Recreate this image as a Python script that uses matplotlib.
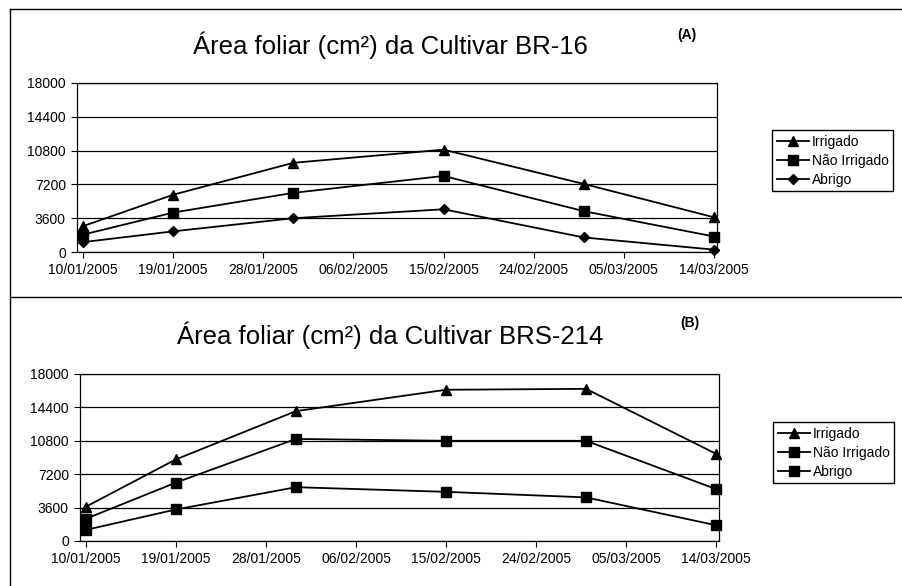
import matplotlib.pyplot as plt
import matplotlib.dates as mdates
from matplotlib.lines import Line2D
import pandas as pd

plt.rcParams['font.family'] = ['Liberation Sans', 'DejaVu Sans']

# dias de amostragem
datas = pd.to_datetime(['2005-01-10', '2005-01-19', '2005-01-31',
                        '2005-02-15', '2005-03-01', '2005-03-14'])
tick_datas = pd.to_datetime(['2005-01-10', '2005-01-19', '2005-01-28', '2005-02-06',
                             '2005-02-15', '2005-02-24', '2005-03-05', '2005-03-14'])
tick_labels = ['10/01/2005', '19/01/2005', '28/01/2005', '06/02/2005',
               '15/02/2005', '24/02/2005', '05/03/2005', '14/03/2005']
y_ticks = [0, 3600, 7200, 10800, 14400, 18000]

series = ['Irrigado', 'Não Irrigado', 'Abrigo']

# (A) BR-16
br16_irrigado = [2750, 6100, 9500, 10900, 7250, 3700]
br16_nao_irrigado = [1850, 4200, 6300, 8100, 4350, 1650]
br16_abrigo = [1050, 2200, 3600, 4550, 1550, 250]

# (B) BRS-214
brs214_irrigado = [3700, 8800, 14000, 16300, 16400, 9400]
brs214_nao_irrigado = [2400, 6300, 11000, 10800, 10800, 5600]
brs214_abrigo = [1200, 3400, 5800, 5300, 4700, 1700]

W, H = 902, 586
fig = plt.figure(figsize=(W / 100, H / 100), dpi=100)


def fx(px):
    return px / W


def fy(py):
    return 1 - py / H


def painel(rect, valores, marcadores, tamanhos, titulo, titulo_y, letra, letra_xy, leg_xy):
    ax = fig.add_axes(rect)
    for v, m, s, nome in zip(valores, marcadores, tamanhos, series):
        ax.plot(datas, v, color='black', lw=1.3, marker=m, markersize=s,
                label=nome, clip_on=False, zorder=3)
    ax.set_ylim(0, 18000)
    ax.set_yticks(y_ticks)
    x0 = mdates.date2num(pd.Timestamp('2005-01-10')) - 0.6
    x1 = mdates.date2num(pd.Timestamp('2005-03-14')) + 0.3
    ax.set_xlim(x0, x1)
    ax.set_xticks(tick_datas)
    ax.set_xticklabels(tick_labels)
    ax.yaxis.grid(True, color='black', lw=0.9)
    ax.set_axisbelow(True)
    for sp in ax.spines.values():
        sp.set_color('black')
        sp.set_linewidth(0.9)
    ax.tick_params(labelsize=10, direction='out', length=4, color='black', pad=4)
    fig.text(fx(390), fy(titulo_y), titulo, ha='center', va='center', fontsize=18.5)
    fig.text(fx(letra_xy[0]), fy(letra_xy[1]), letra, ha='center', va='center',
             fontsize=10, fontweight='bold')
    ax.legend(loc='upper left', bbox_to_anchor=(fx(leg_xy[0]), fy(leg_xy[1])),
              bbox_transform=fig.transFigure, borderaxespad=0, fontsize=10,
              frameon=True, fancybox=False, edgecolor='black', framealpha=1,
              handlelength=2.3, handletextpad=0.2, labelspacing=0.35,
              borderpad=0.35, numpoints=1)
    return ax


painel([fx(77), fy(252), fx(717) - fx(77), fy(83) - fy(252)],
       [br16_irrigado, br16_nao_irrigado, br16_abrigo],
       ['^', 's', 'D'], [7, 6.5, 5],
       'Área foliar (cm²) da Cultivar BR-16', 45, '(A)', (687, 35), (772, 130))

painel([fx(80), fy(541), fx(719) - fx(80), fy(374) - fy(541)],
       [brs214_irrigado, brs214_nao_irrigado, brs214_abrigo],
       ['^', 's', 's'], [7, 6.5, 6.5],
       'Área foliar (cm²) da Cultivar BRS-214', 335, '(B)', (690, 323), (773, 422))

# molduras dos paineis
for linha in [([fx(10), 1], [fy(9), fy(9)]),
              ([fx(10), 1], [fy(297), fy(297)]),
              ([fx(10), fx(10)], [fy(9), 0])]:
    fig.add_artist(Line2D(linha[0], linha[1], transform=fig.transFigure,
                          color='black', lw=1))

fig.savefig('out.png', dpi=100)
